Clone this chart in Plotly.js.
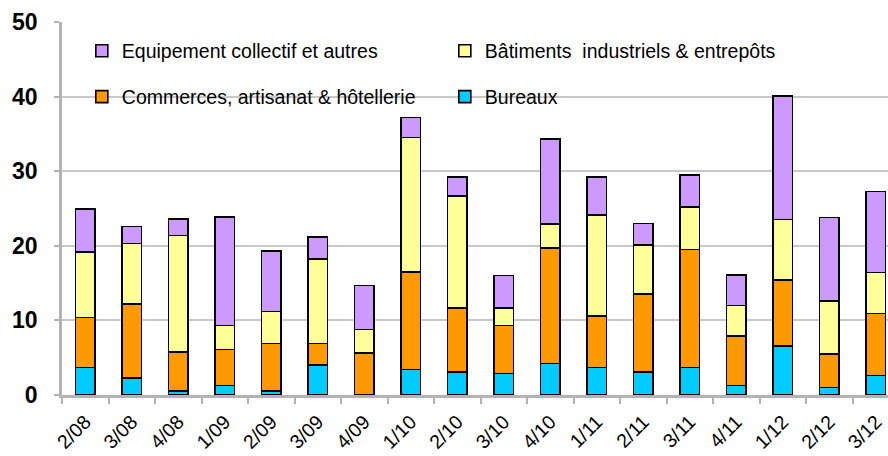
<!DOCTYPE html>
<html>
<head>
<meta charset="utf-8">
<script src="https://cdn.plot.ly/plotly-3.0.1.min.js"></script>
<style>html,body{margin:0;padding:0;background:#fff;}#chart{width:888px;height:456px;}</style>
</head>
<body>
<div id="chart"></div>
<script>
var categories = ["2/08","3/08","4/08","1/09","2/09","3/09","4/09","1/10","2/10","3/10","4/10","1/11","2/11","3/11","4/11","1/12","2/12","3/12"];
var bureaux    = [3.7, 2.3, 0.5, 1.3, 0.5, 4.0, 0.0, 3.4, 3.1, 2.9, 4.2, 3.7, 3.1, 3.7, 1.3, 6.6, 1.0, 2.6];
var commerces  = [6.7, 9.9, 5.3, 4.8, 6.4, 2.9, 5.6, 13.1, 8.6, 6.4, 15.5, 6.9, 10.4, 15.8, 6.6, 8.8, 4.5, 8.3];
var batiments  = [8.8, 8.1, 15.6, 3.2, 4.3, 11.3, 3.2, 18.0, 15.0, 2.4, 3.2, 13.5, 6.6, 5.7, 4.1, 8.1, 7.1, 5.5];
var equipement = [5.7, 2.3, 2.2, 14.6, 8.1, 3.0, 5.9, 2.7, 2.5, 4.3, 11.4, 5.1, 2.9, 4.3, 4.1, 16.6, 11.2, 10.9];
var yTicks = [0, 10, 20, 30, 40, 50];

var line = {color: '#000000', width: 1.6};
function tr(name, vals, color, leg) {
  return {type: 'bar', name: name, x: categories, y: vals, legend: leg,
          marker: {color: color, line: line}, hoverinfo: 'x+y+name'};
}
var data = [
  tr('Bureaux', bureaux, '#00CCFF', 'legend2'),
  tr('Commerces, artisanat & hôtellerie', commerces, '#FF9900', 'legend2'),
  tr('Bâtiments  industriels & entrepôts', batiments, '#FFFF99', 'legend'),
  tr('Equipement collectif et autres', equipement, '#CC99FF', 'legend')
];
var legFont = {family: 'Liberation Sans, Arial, sans-serif', size: 19.5, color: '#000'};
var legBase = {orientation: 'h', xanchor: 'left', yanchor: 'middle',
           traceorder: 'reversed', entrywidth: 318, entrywidthmode: 'pixels',
           bgcolor: 'rgba(0,0,0,0)', font: legFont};
var layout = {
  width: 888, height: 456,
  margin: {l: 62, r: 0, t: 22, b: 61, pad: 0},
  paper_bgcolor: '#ffffff', plot_bgcolor: '#ffffff',
  barmode: 'stack', bargap: 0.58,
  showlegend: true,
  legend: Object.assign({}, legBase, {x: 0.024, y: 0.922}),
  legend2: Object.assign({}, legBase, {x: 0.024, y: 0.799}),
  xaxis: {type: 'category', range: [-0.5, 17.26], tickangle: -45,
          showline: true, linecolor: '#b3b3b3', linewidth: 2.5,
          ticks: 'outside', tickson: 'boundaries', ticklen: 6, tickcolor: '#b3b3b3', tickwidth: 2,
          showgrid: false, zeroline: false, ticklabelstandoff: 5,
          tickfont: {family: 'Liberation Sans, Arial, sans-serif', size: 19.5, color: '#000'}},
  yaxis: {range: [0, 50], tickvals: yTicks, ticktext: yTicks.map(String),
          showline: true, linecolor: '#b3b3b3', linewidth: 2.5,
          ticks: 'outside', ticklen: 5, tickcolor: '#b3b3b3', tickwidth: 2,
          showgrid: true, gridcolor: '#c8c8c8', gridwidth: 2, zeroline: false,
          ticklabelstandoff: 12,
          tickfont: {family: 'Liberation Sans, Arial, sans-serif', size: 23, color: '#000', weight: 'bold'}}
};
Plotly.newPlot('chart', data, layout, {displayModeBar: false, responsive: false});
</script>
</body>
</html>
